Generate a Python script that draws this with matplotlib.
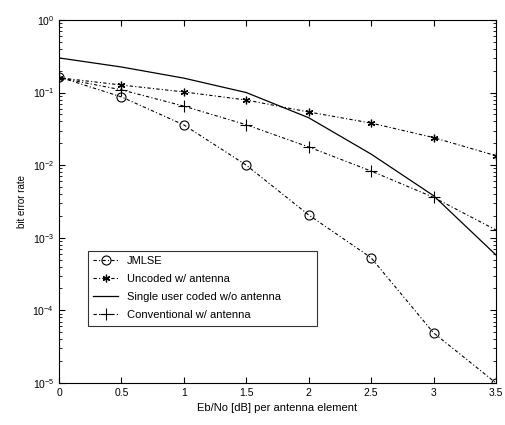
import numpy as np
import matplotlib
matplotlib.use("Agg")
import matplotlib.pyplot as plt

plt.rcParams['font.family'] = ['Liberation Sans', 'DejaVu Sans']
plt.rcParams['font.size'] = 7.5

ebno = [0, 0.5, 1, 1.5, 2, 2.5, 3, 3.5]
jmlse = [0.164, 0.087, 0.0358, 0.0100, 2.06e-3, 5.3e-4, 4.9e-5, 1.0e-5]
uncoded = [0.160, 0.127, 0.102, 0.079, 0.054, 0.038, 0.024, 0.0135]
single_user = [0.30, 0.225, 0.158, 0.100, 0.045, 0.0142, 3.8e-3, 5.8e-4]
conventional = [0.160, 0.109, 0.065, 0.036, 0.0178, 8.3e-3, 3.6e-3, 1.28e-3]

dashdot = (0, (3, 2, 1, 2))

fig = plt.figure(figsize=(5.05, 4.25), dpi=100)
ax = fig.add_axes([0.117, 0.099, 0.865, 0.854])

ax.semilogy(ebno, jmlse, color='black', linestyle=dashdot, linewidth=0.8,
            marker='o', markersize=6.5, markerfacecolor='none', markeredgewidth=0.8,
            label='JMLSE')
ax.semilogy(ebno, uncoded, color='black', linestyle=dashdot, linewidth=0.8,
            marker=(6, 2, 0), markersize=5.5, markeredgewidth=0.9,
            label='Uncoded w/ antenna')
ax.semilogy(ebno, single_user, color='black', linestyle='-', linewidth=0.9,
            label='Single user coded w/o antenna')
ax.semilogy(ebno, conventional, color='black', linestyle=dashdot, linewidth=0.8,
            marker='+', markersize=8, markeredgewidth=0.8,
            label='Conventional w/ antenna')

ax.set_xlim(0, 3.5)
ax.set_ylim(1e-5, 1e0)
ax.set_xticks([0, 0.5, 1, 1.5, 2, 2.5, 3, 3.5])
ax.set_xticklabels(['0', '0.5', '1', '1.5', '2', '2.5', '3', '3.5'])
ax.tick_params(which='both', direction='in', top=True, right=True)
ax.tick_params(which='major', length=4)
ax.tick_params(which='minor', length=2)

ax.set_xlabel('Eb/No [dB] per antenna element', fontsize=8)
ax.set_ylabel('bit error rate', fontsize=7)

leg = ax.legend(loc='lower left', bbox_to_anchor=(0.066, 0.157, 0.524, 0.2),
                mode='expand', borderaxespad=0,
                fontsize=8, frameon=True, fancybox=False, edgecolor='black',
                handlelength=2.2, borderpad=0.5, labelspacing=0.72)
leg.get_frame().set_linewidth(0.8)

fig.savefig('out.png', dpi=100)
